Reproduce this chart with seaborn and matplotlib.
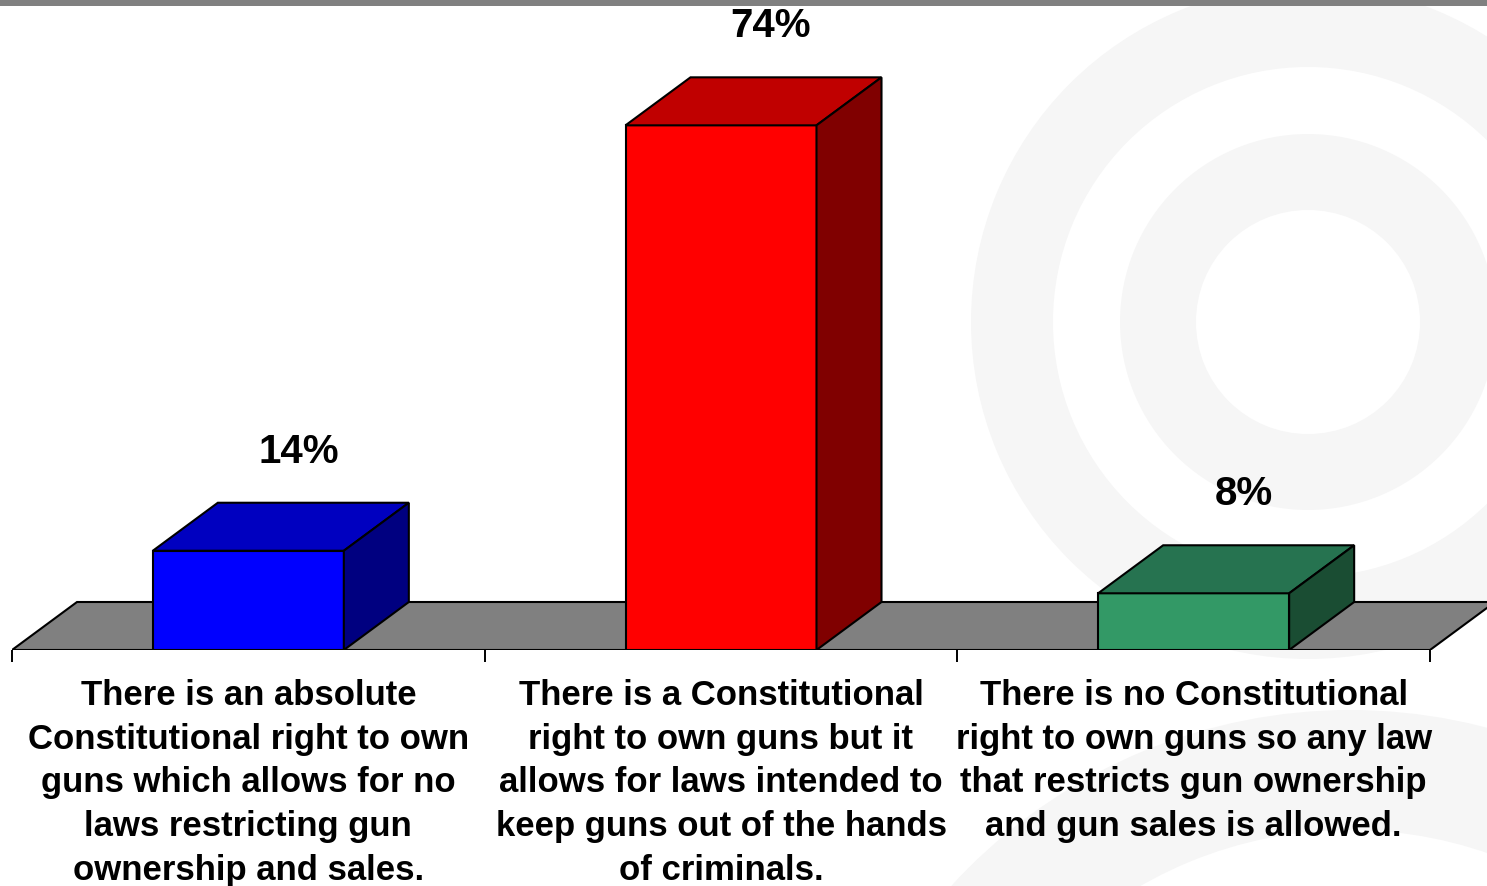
import matplotlib
matplotlib.use("Agg")
import matplotlib.pyplot as plt
from matplotlib.patches import Polygon, Rectangle, Wedge
import seaborn as sns
import pandas as pd

# chart data
categories = [
    "There is an absolute\nConstitutional right to own\nguns which allows for no\nlaws restricting gun\nownership and sales.",
    "There is a Constitutional\nright to own guns but it\nallows for laws intended to\nkeep guns out of the hands\nof criminals.",
    "There is no Constitutional\nright to own guns so any law\nthat restricts gun ownership\nand gun sales is allowed.",
]
values = [14, 74, 8]
value_labels = ["14%", "74%", "8%"]
front_colors = ["#0000FF", "#FF0000", "#339966"]
top_colors = ["#0000C0", "#C00000", "#267350"]
side_colors = ["#000080", "#800000", "#1A4D33"]

df = pd.DataFrame({"cat": categories, "value": values})

W, H = 1487, 886
fig = plt.figure(figsize=(W / 100, H / 100), dpi=100)

# background: gray band + faint rings
bg = fig.add_axes([0, 0, 1, 1], zorder=-5)
bg.set_xlim(0, W)
bg.set_ylim(H, 0)
bg.axis("off")
ring = "#f6f6f6"
for r_out, r_in in [(337, 255), (188, 112)]:
    bg.add_patch(Wedge((1308, 322), r_out, 0, 360, width=r_out - r_in, color=ring, lw=0))
bg.add_patch(Wedge((1350, 1250), 540, 0, 360, width=120, color=ring, lw=0))
bg.add_patch(Rectangle((0, 0), W, 6, color="#808080", lw=0))

# main axes placed to match the reference pixels
px_per_cat = (1430 - 12) / 3
px_per_pct = 7.09
x_right = 2.5 + (W - 1430) / px_per_cat
y_top = 650 / px_per_pct
ax = fig.add_axes([12 / W, (H - 650) / H, (W - 12) / W, 650 / H])
ax.set_facecolor("none")

dx = 65 / px_per_cat
dy = 48 / px_per_pct

# floor
floor = Polygon([(-0.5, 0), (2.5, 0), (2.5 + dx, dy), (-0.5 + dx, dy)],
                closed=True, facecolor="#808080", edgecolor="black", lw=1.5,
                zorder=0.5, clip_on=True)
ax.add_patch(floor)

sns.barplot(data=df, x="cat", y="value", hue="cat", palette=front_colors,
            saturation=1, width=191 / px_per_cat, edgecolor="black", linewidth=1.5,
            legend=False, ax=ax, zorder=2)

bars = [p for p in ax.patches if isinstance(p, Rectangle)]
for i, p in enumerate(bars):
    x0 = p.get_x()
    w = p.get_width()
    h = p.get_height()
    x1 = x0 + w
    top = Polygon([(x0, h), (x1, h), (x1 + dx, h + dy), (x0 + dx, h + dy)],
                  closed=True, facecolor=top_colors[i], edgecolor="black", lw=1.5, zorder=2)
    side = Polygon([(x1, 0), (x1 + dx, dy), (x1 + dx, h + dy), (x1, h)],
                   closed=True, facecolor=side_colors[i], edgecolor="black", lw=1.5, zorder=2)
    ax.add_patch(top)
    ax.add_patch(side)
    ax.text(x0 + w / 2 + 50 / px_per_cat, h + dy + 40 / px_per_pct, value_labels[i],
            ha="center", va="baseline", fontsize=29, fontweight="bold",
            family="Liberation Sans", color="black", zorder=3)

ax.set_xlim(-0.5, x_right)
ax.set_ylim(0, y_top)
for s in ax.spines.values():
    s.set_visible(False)
ax.set_yticks([])
ax.set_xlabel("")
ax.set_ylabel("")
ax.set_xticks([0, 1, 2])
ax.set_xticklabels(categories, fontsize=25, fontweight="bold",
                   family="Liberation Sans", linespacing=1.41)
ax.tick_params(axis="x", which="major", length=0, pad=21)
ax.set_xticks([-0.5, 0.5, 1.5, 2.5], minor=True)
ax.tick_params(axis="x", which="minor", length=8.6, width=1.4, color="black", direction="out")

fig.savefig("out.png", dpi=100)
